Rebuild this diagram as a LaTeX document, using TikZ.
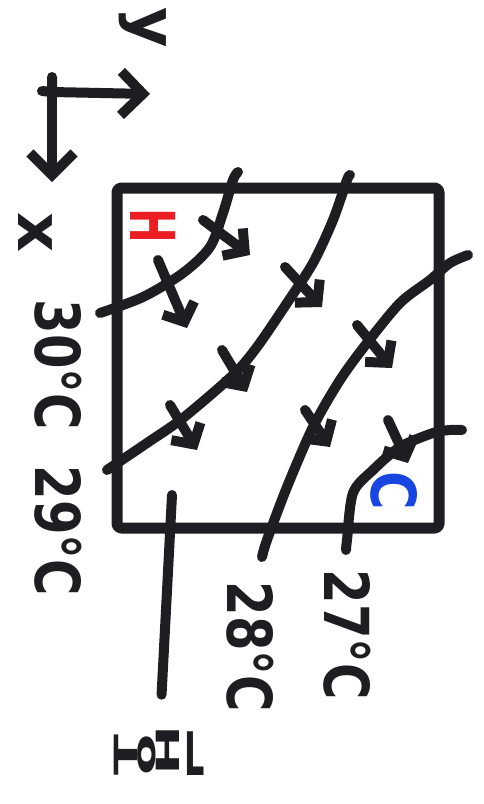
\documentclass[tikz,border=0pt]{standalone}
\usepackage{fontspec}
\setsansfont{DejaVu Sans}
\usetikzlibrary{arrows.meta}
\usetikzlibrary{positioning}
\definecolor{ink}{RGB}{30,30,34}
\definecolor{hotred}{RGB}{235,30,35}
\definecolor{coldblue}{RGB}{25,70,225}
\tikzset{
  pen/.style = {draw=ink, line width=10pt, line cap=round, line join=round},
  flux/.style = {pen, -{Straight Barb[length=15pt, width=34pt]}},
  axis/.style = {pen, -{Straight Barb[length=22pt, width=44pt]}},
  scrawl/.style = {text=ink, inner sep=0pt, rotate=-90,
    font=\sffamily\bfseries\fontsize{62}{62}\selectfont},
}

\begin{document}
\begin{tikzpicture}[x=1pt, y=-1pt]
  \useasboundingbox (0,0) rectangle (483,804);

  % axes
  \coordinate (o) at (52,92);
  \coordinate (xtip) at (52,182);
  \coordinate (ytip) at (150,94);
  \draw[pen] (52,77) -- (o) (42,91) -- (o);
  \draw[axis] (o) -- (xtip);
  \draw[axis] (o) -- (ytip);
  \node[scrawl] (ylab) at (143,28) {y};
  \node[scrawl] (xlab) at (35,232) {x};

  % plate
  \node[pen, line width=11pt, rounded corners=4pt, inner sep=0pt,
        minimum width=322pt, minimum height=340pt] (plate) at (278,358) {};
  \node[scrawl, text=hotred] (hmark) at (153,226) {\scalebox{0.67}[1]{H}};
  \node[scrawl, text=coldblue] (cmark) at (394,491) {\scalebox{0.85}[1]{C}};

  % isotherms
  \draw[pen] plot[smooth] coordinates {(100,313) (143,297) (183,273) (210,247) (223,213) (233,180) (238,172)};
  \draw[pen] plot[smooth] coordinates {(107,470) (147,443) (183,418) (233,375) (257,347) (287,303) (313,263) (333,220) (347,180) (350,175)};
  \draw[pen] plot[smooth] coordinates {(262,557) (267,540) (287,487) (313,427) (340,380) (367,343) (400,303) (430,280) (450,263) (468,255)};
  \draw[pen] plot[smooth] coordinates {(346,550) (347,540) (353,493) (373,470) (400,447) (433,433) (450,430) (462,430)};

  \node[scrawl] (t30) at (58,365) {\scalebox{0.8}[1]{30°C}};
  \node[scrawl] (t29) at (58,531) {\scalebox{0.8}[1]{29°C}};
  \node[scrawl] (t28) at (250,647) {\scalebox{0.8}[1]{28°C}};
  \node[scrawl] (t27) at (347,635) {\scalebox{0.8}[1]{27°C}};

  % heat flux
  \foreach \xa/\ya/\xb/\yb in {203/220/250/255, 158/260/187/328, 285/267/322/307,
                               222/350/247/392, 170/405/197/450, 357/325/392/368,
                               305/410/330/447, 388/420/408/463}
    \draw[flux] (\xa,\ya) -- (\xb,\yb);

  % rod
  \coordinate (rod) at (172,495);
  \node[text=ink, inner sep=0pt, font=\sffamily\bfseries\fontsize{40}{40}\selectfont]
    (hot) at (160,750) {\scalebox{0.8}[1.5]{\rotatebox{90}{T}\rotatebox{90}{o}\rotatebox{90}{H}\,L}};
  \draw[pen, shorten >=30pt] (rod) -- (hot.north);
\end{tikzpicture}
\end{document}
